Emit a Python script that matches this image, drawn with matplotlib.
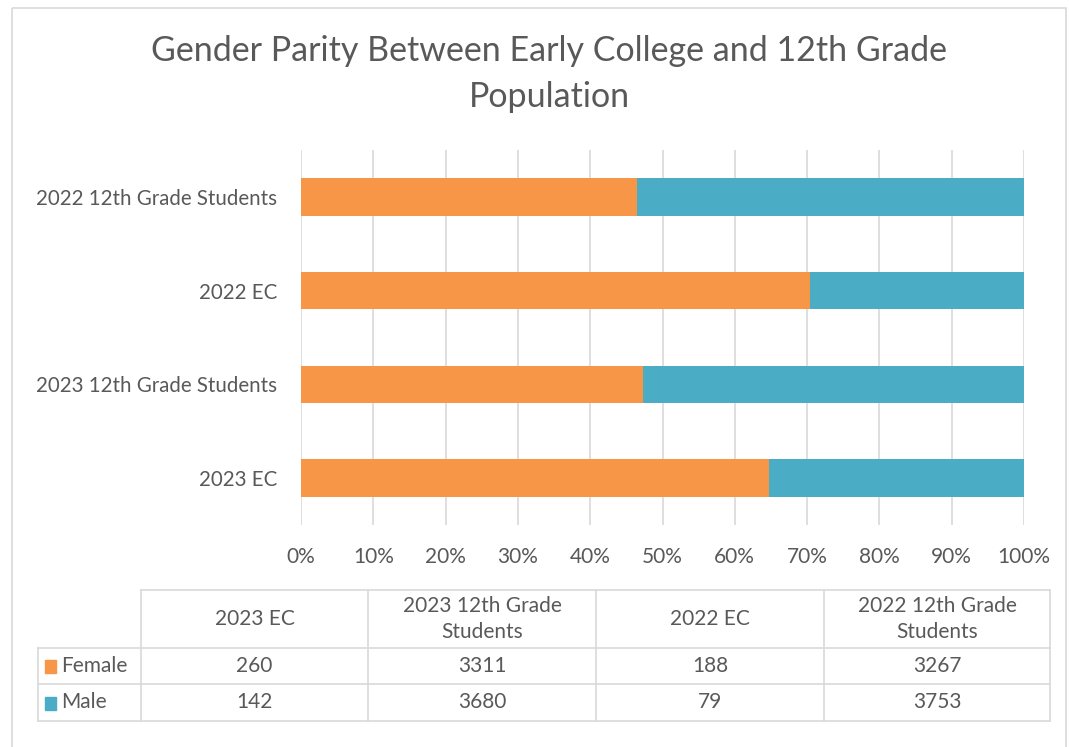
import textwrap
import numpy as np
import matplotlib.pyplot as plt
from matplotlib.patches import Rectangle

plt.rcParams['font.family'] = ['Lato', 'DejaVu Sans']

# 数据
categories = ['2023 EC', '2023 12th Grade Students', '2022 EC', '2022 12th Grade Students']
female = [260, 3311, 188, 3267]
male = [142, 3680, 79, 3753]
series_names = ['Female', 'Male']
pct_ticks = [0, 10, 20, 30, 40, 50, 60, 70, 80, 90, 100]

ORANGE = '#F79646'
BLUE = '#4BACC6'
TXT = '#595959'
GRID = '#D9D9D9'
FS = 15

W, H = 1069, 747
fig = plt.figure(figsize=(W / 100, H / 100), dpi=100)

# 背景层（像素坐标），用于边框和表格
bg = fig.add_axes([0, 0, 1, 1])
bg.set_xlim(0, W)
bg.set_ylim(H, 0)
bg.axis('off')
bg.add_patch(Rectangle((12, 8), 1054, 760, fill=False, edgecolor='#D9D9D9', linewidth=1.2))

# 百分比堆叠条形图
fem = np.array(female, dtype=float)
mal = np.array(male, dtype=float)
tot = fem + mal
fem_pct = fem / tot * 100
mal_pct = mal / tot * 100

ax = fig.add_axes([301 / W, 1 - 525 / H, (1024 - 301) / W, (525 - 150) / H])
y = np.arange(len(categories))
ax.barh(y, fem_pct, height=0.4, color=ORANGE, label=series_names[0], zorder=3)
ax.barh(y, mal_pct, left=fem_pct, height=0.4, color=BLUE, label=series_names[1], zorder=3)
ax.set_ylim(-0.5, 3.5)
ax.set_xlim(0, 100)
ax.set_yticks(y)
ax.set_yticklabels(categories, fontsize=14.8, color=TXT)
ax.set_xticks(pct_ticks)
ax.set_xticklabels([f'{t}%' for t in pct_ticks], fontsize=FS, color=TXT)
ax.tick_params(length=0, pad=17, axis='y')
ax.tick_params(length=0, pad=16, axis='x')
ax.grid(axis='x', color=GRID, linewidth=1.2, zorder=0)
for s in ax.spines.values():
    s.set_visible(False)

fig.text(549 / W, 1 - 74 / H,
         'Gender Parity Between Early College and 12th Grade\nPopulation',
         ha='center', va='center', fontsize=24.5, color=TXT, linespacing=1.55)

# 数据表
col_x = [141, 368, 596, 824, 1050]
row_y = [590, 648, 684, 721]
label_left = 38
lc = GRID
bg.plot([col_x[0], col_x[-1]], [row_y[0], row_y[0]], color=lc, lw=1.2)
for yy in row_y[1:]:
    bg.plot([label_left, col_x[-1]], [yy, yy], color=lc, lw=1.2)
for xx in col_x:
    bg.plot([xx, xx], [row_y[0], row_y[-1]], color=lc, lw=1.2)
bg.plot([label_left, label_left], [row_y[1], row_y[-1]], color=lc, lw=1.2)

for i, name in enumerate(categories):
    cx = (col_x[i] + col_x[i + 1]) / 2
    bg.text(cx, (row_y[0] + row_y[1]) / 2, textwrap.fill(name, 16),
            ha='center', va='center', fontsize=FS, color=TXT, linespacing=1.35)

rows = [(series_names[0], female, ORANGE), (series_names[1], male, BLUE)]
for r, (name, vals, col) in enumerate(rows):
    cy = (row_y[r + 1] + row_y[r + 2]) / 2
    bg.add_patch(Rectangle((45, cy - 6), 11, 13, color=col))
    bg.text(61, cy, name, ha='left', va='center', fontsize=FS, color=TXT)
    for i, v in enumerate(vals):
        cx = (col_x[i] + col_x[i + 1]) / 2
        bg.text(cx, cy, str(v), ha='center', va='center', fontsize=FS, color=TXT)

fig.savefig('out.png', dpi=100, facecolor='white')
